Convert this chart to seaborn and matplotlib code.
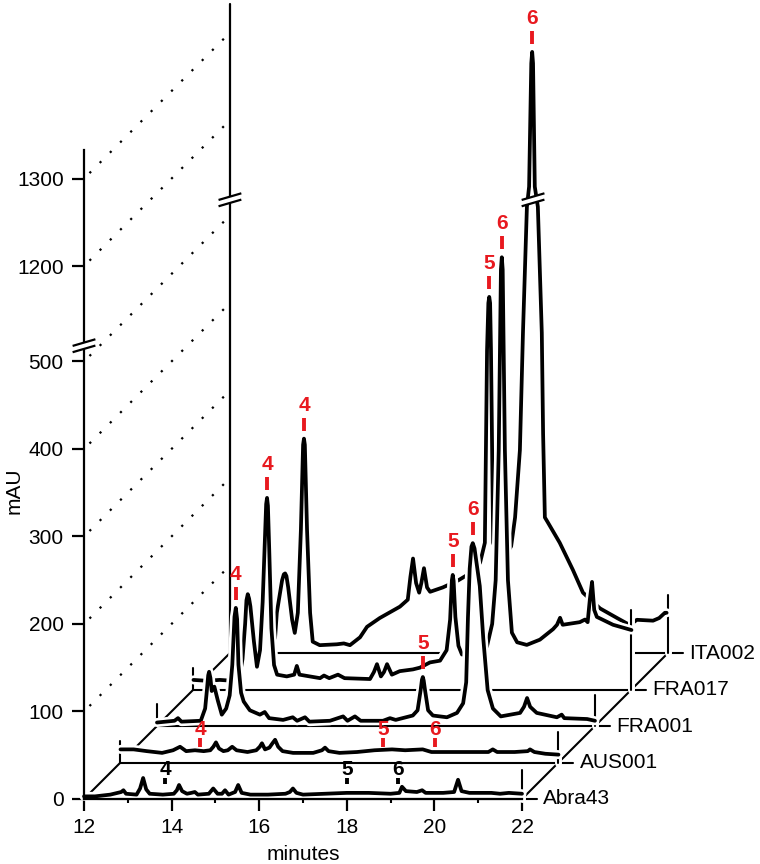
import numpy as np
import matplotlib
matplotlib.use("Agg")
import matplotlib.pyplot as plt
import matplotlib.patheffects as pe
import seaborn as sns

# sample names, front row first
samples = ['Abra43', 'AUS001', 'FRA001', 'FRA017', 'ITA002']

# chromatograms: (minutes, mAU) on each sample's own baseline
abra43 = [(12.0, 3), (12.25, 3), (12.6, 5), (12.85, 8), (12.9, 10), (12.96, 6), (13.2, 5),
          (13.28, 12), (13.35, 24), (13.42, 11), (13.5, 6), (13.8, 5), (14.05, 6), (14.12, 10),
          (14.17, 16), (14.24, 9), (14.35, 6), (14.45, 7), (14.53, 8), (14.6, 5), (14.85, 6),
          (14.95, 12), (15.05, 6), (15.15, 6), (15.22, 10), (15.3, 5), (15.45, 8), (15.52, 16),
          (15.6, 7), (15.8, 5), (16.2, 5), (16.6, 6), (16.7, 8), (16.77, 12), (16.85, 7),
          (17.0, 5), (17.5, 6), (18.0, 7), (18.5, 7), (19.0, 6), (19.2, 7), (19.26, 14),
          (19.35, 9), (19.6, 8), (19.72, 10), (19.8, 7), (20.2, 7), (20.45, 8), (20.54, 22),
          (20.62, 9), (20.8, 7), (21.3, 7), (21.5, 6), (21.7, 7), (22.0, 6)]

aus001 = [(12.0, 15), (12.3, 15), (12.6, 13), (12.95, 11), (13.2, 14), (13.36, 18), (13.5, 13),
          (13.7, 14), (13.9, 13), (14.05, 14), (14.12, 18), (14.18, 23), (14.25, 16), (14.35, 13),
          (14.45, 14), (14.55, 18), (14.65, 14), (14.9, 12), (15.1, 14), (15.18, 18), (15.23, 22),
          (15.3, 15), (15.4, 17), (15.47, 22), (15.53, 26), (15.6, 18), (15.7, 13), (15.94, 11),
          (16.4, 11), (16.6, 14), (16.67, 17), (16.75, 13), (17.0, 11), (17.4, 12), (17.8, 14),
          (18.2, 15), (18.5, 14), (18.9, 15), (19.1, 12), (19.5, 12), (20.0, 12), (20.4, 12),
          (20.5, 15), (20.6, 12), (21.0, 12), (21.3, 13), (21.35, 15), (21.45, 12), (21.7, 10),
          (22.0, 9)]

fra001 = [(12.0, 4), (12.4, 6), (12.48, 9), (12.56, 5), (13.0, 6), (13.1, 20), (13.14, 41),
          (13.17, 58), (13.19, 62), (13.22, 55), (13.25, 40), (13.31, 45), (13.39, 29),
          (13.48, 13), (13.58, 20), (13.66, 35), (13.72, 70), (13.77, 125), (13.8, 135),
          (13.83, 122), (13.86, 70), (13.92, 38), (13.98, 28), (14.12, 18), (14.35, 13),
          (14.46, 16), (14.56, 9), (14.88, 7), (15.1, 10), (15.2, 6), (15.38, 10), (15.48, 5),
          (15.95, 6), (16.25, 11), (16.35, 6), (16.52, 11), (16.65, 6), (17.16, 6), (17.32, 9),
          (17.45, 7), (17.84, 12), (17.95, 18), (18.02, 41), (18.05, 53), (18.07, 56),
          (18.09, 52), (18.12, 41), (18.19, 18), (18.3, 12), (18.62, 10), (18.85, 15),
          (18.99, 26), (19.06, 50), (19.10, 124), (19.14, 180), (19.18, 205), (19.21, 209),
          (19.25, 203), (19.30, 185), (19.37, 160), (19.45, 100), (19.55, 41), (19.67, 20),
          (19.85, 11), (20.29, 15), (20.38, 22), (20.45, 32), (20.52, 22), (20.67, 15),
          (21.13, 10), (21.24, 13), (21.3, 9), (21.82, 8), (22.0, 6)]

fra017 = [(12.0, 11), (12.3, 10), (12.6, 11), (12.9, 10), (13.05, 14), (13.12, 35), (13.18, 75),
          (13.21, 102), (13.24, 109), (13.27, 104), (13.3, 95), (13.38, 55), (13.45, 26),
          (13.52, 45), (13.58, 100), (13.63, 170), (13.66, 212), (13.68, 219), (13.70, 210),
          (13.73, 160), (13.78, 70), (13.84, 28), (13.91, 17), (14.13, 15), (14.3, 17),
          (14.36, 27), (14.42, 17), (14.89, 13), (14.98, 16), (15.1, 13), (15.3, 17), (15.45, 13),
          (16.03, 12), (16.12, 20), (16.19, 29), (16.28, 15), (16.35, 20), (16.42, 29),
          (16.53, 17), (16.71, 21), (17.01, 23), (17.17, 25), (17.40, 31), (17.63, 33),
          (17.78, 45), (17.86, 80), (17.90, 125), (17.92, 131), (17.94, 124), (17.98, 83),
          (18.05, 50), (18.13, 40), (18.54, 42), (18.70, 49), (18.82, 75), (18.90, 125),
          (18.97, 274), (19.02, 480), (19.04, 494), (19.06, 480), (19.11, 274), (19.18, 125),
          (19.27, 65), (19.39, 54), (19.61, 51), (19.91, 57), (20.21, 69), (20.3, 74),
          (20.37, 82), (20.43, 74), (20.82, 77), (20.94, 80), (21.0, 77), (21.05, 103),
          (21.1, 123), (21.15, 91), (21.21, 83), (21.58, 74), (22.0, 68)]

ita002 = [(13.03, 17), (13.07, 46), (13.19, 83), (13.23, 90), (13.26, 91), (13.29, 88),
          (13.33, 75), (13.42, 38), (13.48, 23), (13.55, 46), (13.62, 141), (13.67, 238),
          (13.69, 245), (13.71, 238), (13.76, 141), (13.83, 46), (13.89, 13), (14.05, 9),
          (14.44, 10), (14.6, 11), (14.74, 9), (14.97, 18), (15.13, 30), (15.42, 40), (15.88, 53),
          (16.06, 61), (16.12, 87), (16.18, 108), (16.25, 80), (16.32, 69), (16.37, 80),
          (16.43, 97), (16.5, 75), (16.57, 70), (16.86, 75), (17.21, 83), (17.41, 89),
          (17.71, 103), (17.82, 126), (17.87, 346), (17.90, 400), (17.92, 407), (17.94, 400),
          (17.96, 346), (18.01, 126), (18.1, 112), (18.3, 112), (18.42, 122), (18.51, 155),
          (18.62, 232), (18.69, 366), (18.78, 510), (18.83, 1124), (18.88, 1265), (18.90, 1278),
          (18.92, 1265), (18.96, 1124), (19.03, 510), (19.12, 366), (19.15, 250), (19.19, 155),
          (19.25, 150), (19.53, 126), (19.83, 95), (20.06, 69), (20.45, 51), (20.84, 40),
          (21.13, 32), (21.29, 38), (21.66, 37), (21.8, 40), (21.93, 46), (21.97, 46)]

traces = [abra43, aus001, fra001, fra017, ita002]

# marked compounds 4, 5, 6: retention time and the level where the tick mark starts
peak_names = ['4', '5', '6']
peak_rt = [[13.85, 18.0, 19.17], [13.82, 18.0, 19.18], [13.80, 18.07, 19.21],
           [13.68, 17.92, 19.04], [13.69, 17.92, 18.90]]
peak_lo = [[17, 17, 17], [18, 18, 18], [144, 65, 218], [228, 140, 503], [254, 416, 1287]]

# y axis ticks (mAU) on the broken scale
ytick_values = [0, 100, 200, 300, 400, 500, 1200, 1300]

# pseudo-3D offset of each row, and the axis break
DX, DY = 0.833, 41.7
BRK_LO, BRK_GAP = 517, 591
RED = '#e8191f'


def brk(v):
    v = np.asarray(v, dtype=float)
    return np.where(v > BRK_LO, v - BRK_GAP, v)


sns.set_theme(style="ticks", rc={'axes.edgecolor': 'black', 'xtick.color': 'black',
                                  'ytick.color': 'black', 'text.color': 'black',
                                  'axes.labelcolor': 'black'})
plt.rcParams['font.family'] = ['Liberation Sans', 'DejaVu Sans']

fig = plt.figure(figsize=(7.6, 8.64), dpi=100)
ax = fig.add_axes([84 / 760, 65 / 864, 438 / 760, 649 / 864])
top = 741.7


def draw_break(xc, yc, z):
    hw, tilt, sep = 0.26, 3.8, 3.6
    ax.fill([xc - hw, xc + hw, xc + hw, xc - hw],
            [yc - sep - tilt, yc - sep + tilt, yc + sep + tilt, yc + sep - tilt],
            color='white', zorder=z, clip_on=False, lw=0)
    for s in (-sep, sep):
        ax.plot([xc - hw, xc + hw], [yc + s - tilt, yc + s + tilt], color='black',
                lw=1.6, zorder=z + 0.1, clip_on=False, solid_capstyle='butt')


# back wall, floor diagonals and dotted grid lines
bx, by = 12 + 4 * DX, 4 * DY
ax.plot([bx, bx], [by, top + by], color='black', lw=1.6, zorder=1, clip_on=False)
ax.plot([12, bx], [0, by], color='black', lw=1.5, zorder=1, clip_on=False)
ax.plot([22, 22 + 4 * DX], [0, by], color='black', lw=1.5, zorder=1, clip_on=False)
for yv in brk(ytick_values[1:]):
    ax.plot([12, bx], [yv, yv + by], color='black', lw=1.6, ls=(3, (1, 5.5)),
            zorder=1, clip_on=False)

halo = [pe.Stroke(linewidth=6.5, foreground='white'), pe.Normal()]
thin_halo = [pe.Stroke(linewidth=5, foreground='white'), pe.Normal()]
right_h = [33, 35, 35, 91, 66]
bar_len = [7, 10, 15, 15, 15]
txt_gap = [3, 3, 8, 8, 8]

# draw from the back row to the front row so front traces hide the ones behind
for k in range(4, -1, -1):
    t, v = np.array(traces[k]).T
    xp = t + k * DX
    yp = brk(v) + k * DY
    y0 = k * DY
    z = 5 + (4 - k) * 2
    ax.fill_between(xp, yp, y0, color='white', zorder=z, clip_on=False, lw=0)
    ax.plot([t[0] + k * DX, 22.34 + k * DX], [y0, y0], color='black', lw=1.5,
            zorder=z + 0.5, clip_on=False)
    ax.plot([22 + k * DX] * 2, [y0, y0 + right_h[k]], color='black', lw=1.5,
            zorder=z + 0.5, clip_on=False, path_effects=thin_halo)
    if 0 < k < 4:
        ax.plot([12 + k * DX] * 2, [y0, y0 + 25], color='black', lw=1.5,
                zorder=z + 0.5, clip_on=False)
    sns.lineplot(x=xp, y=yp, ax=ax, color='black', linewidth=2.7, sort=False,
                 estimator=None, zorder=z + 1, clip_on=False, path_effects=halo)
    col = 'black' if k == 0 else RED
    for name, rt, lo in zip(peak_names, peak_rt[k], peak_lo[k]):
        x = rt + k * DX
        ylo = float(brk(lo)) + y0
        ax.plot([x, x], [ylo, ylo + bar_len[k]], color=col, lw=2.8, zorder=z + 1.2,
                clip_on=False, solid_capstyle='butt')
        ax.text(x, ylo + bar_len[k] + txt_gap[k], name, color=col, ha='center',
                va='baseline', fontsize=15, fontweight='bold', zorder=z + 1.2)
    ax.text(22.48 + k * DX, y0, samples[k], ha='left', va='center', fontsize=15)

# axis breaks
draw_break(12, 518, 40)
draw_break(bx, 518 + by, 40)
draw_break(18.92 + 4 * DX, 518 + by, 40)

ax.set_xlim(12, 22)
ax.set_ylim(0, top)
ax.set_xticks(range(12, 23, 2))
ax.set_xticks([13, 15, 17, 19, 21], minor=True)
ax.set_yticks(brk(ytick_values))
ax.set_yticklabels([str(v) for v in ytick_values])
ax.tick_params(which='major', length=8.6, width=1.6, labelsize=15)
ax.tick_params(axis='x', which='major', pad=5)
ax.tick_params(axis='y', which='major', pad=6)
ax.tick_params(axis='x', which='minor', length=3, width=1.5)
sns.despine(ax=ax)
for s in ('left', 'bottom'):
    ax.spines[s].set_linewidth(1.6)
    ax.spines[s].set_zorder(30)
ax.set_xlabel('minutes', fontsize=15)
ax.set_ylabel('mAU', fontsize=15)
ax.xaxis.set_label_coords(0.5, -0.071)
ax.yaxis.set_label_coords(-0.137, 0.475)

fig.savefig('out.png', dpi=100)
